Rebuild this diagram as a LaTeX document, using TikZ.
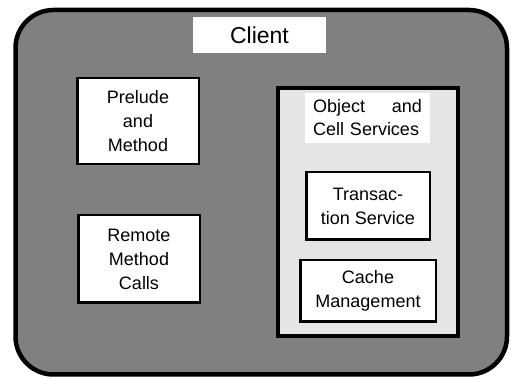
\documentclass[tikz,border=0pt]{standalone}
\usepackage{fontspec}
\setmainfont{Liberation Sans}
\begin{document}
\begin{tikzpicture}[x=1pt,y=1pt,
  box/.style={draw,fill=white,line width=2.5pt,align=center,inner sep=0pt,
    font=\fontsize{18}{24}\selectfont}]
  \useasboundingbox (0,0) rectangle (511,379);
  % client frame
  \draw[line width=4.5pt,fill=gray,rounded corners=38pt] (15.5,4.5) rectangle (507,369);
  \node[fill=white,minimum width=133pt,minimum height=36pt,
    font=\fontsize{23}{28}\selectfont] (client) at (259.5,344) {Client};
  %
  \node[box,minimum width=121.5pt,minimum height=86pt] (prelude) at (138,258) {Prelude\\and\\Method};
  \node[box,minimum width=121.5pt,minimum height=87.5pt] (remote) at (139,120) {Remote\\Method\\Calls};
  %%%%%%%%%%%%%%%%%%%%%
  \node[draw,fill=black!10,line width=4.5pt,minimum width=180pt,minimum height=248pt] (services) at (368,167) {};
  \node[fill=white,minimum width=125pt,minimum height=50pt,text width=109pt,align=left,
    inner sep=0pt,font=\fontsize{18}{23}\selectfont] (objlabel) at (367.5,261) {Object\hfill and\\Cell Services};
  \node[box,minimum width=123.5pt,minimum height=67.5pt] (transaction) at (368,173) {Transac-\\tion Service};
  \node[box,minimum width=135.5pt,minimum height=61.5pt] (cache) at (368,88) {Cache\\Management};
\end{tikzpicture}
\end{document}
